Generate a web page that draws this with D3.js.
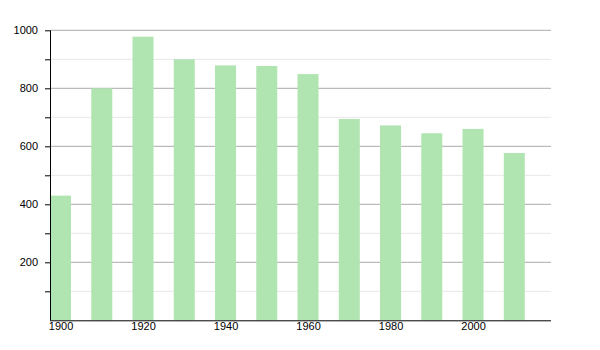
<!DOCTYPE html>
<html>
<head>
<meta charset="utf-8">
<script src="https://cdn.jsdelivr.net/npm/d3@7"></script>
<style>
  body { margin: 0; background: #fff; }
  svg { display: block; font-family: "Liberation Sans", Arial, sans-serif; }
</style>
</head>
<body>
<div id="chart"></div>
<script>
// Data
let years = [1900, 1910, 1920, 1930, 1940, 1950, 1960, 1970, 1980, 1990, 2000, 2010];
let population = [430, 800, 978, 900, 879, 877, 849, 694, 672, 645, 660, 577];
let y_ticks = [200, 400, 600, 800, 1000];
let x_ticks = [1900, 1920, 1940, 1960, 1980, 2000];

function BuildGraph(){
  let chart_width = 600;
  let chart_height = 350;
  let left = 50, right = 551, top = 30.3, bottom = 320.3;

  let svg = d3.select('#chart')
    .append('svg')
    .attr('width', chart_width)
    .attr('height', chart_height);

  // Scales
  let x_scale = d3.scaleLinear()
    .domain([1897.45, 2018.9])
    .range([left, right]);

  let y_scale = d3.scaleLinear()
    .domain([0, 1000])
    .range([bottom, top]);

  // Grid lines: minor every 100, major every 200
  let minor = d3.range(100, 1000, 200);
  svg.selectAll('line.minor')
    .data(minor)
    .enter()
    .append('line')
    .attr('x1', left).attr('x2', right)
    .attr('y1', d => y_scale(d)).attr('y2', d => y_scale(d))
    .attr('stroke', '#e8e8e8')
    .attr('stroke-width', 1);

  svg.selectAll('line.major')
    .data(y_ticks)
    .enter()
    .append('line')
    .attr('x1', left).attr('x2', right)
    .attr('y1', d => y_scale(d)).attr('y2', d => y_scale(d))
    .attr('stroke', '#aaaaaa')
    .attr('stroke-width', 1);

  // Bars
  let bar_width = 21;
  svg.selectAll('rect.bar')
    .data(years)
    .enter()
    .append('rect')
    .attr('x', d => x_scale(d) - bar_width / 2)
    .attr('y', (d, i) => y_scale(population[i]))
    .attr('width', bar_width)
    .attr('height', (d, i) => y_scale(0) - y_scale(population[i]))
    .attr('fill', '#b0e5b1');

  // Y axis
  let y_axis = d3.axisLeft(y_scale)
    .tickValues(d3.range(100, 1001, 100))
    .tickSize(5)
    .tickFormat(d => y_ticks.includes(d) ? d : '');
  let gy = svg.append('g')
    .attr('transform', 'translate(' + left + ',0)')
    .call(y_axis);
  gy.select('.domain').attr('stroke', '#000').attr('d', 'M0.5,' + top + 'V' + bottom);
  gy.selectAll('.tick line').attr('stroke', '#000');
  gy.selectAll('.tick text')
    .attr('x', -12)
    .style('font-size', '11px')
    .attr('fill', '#000');

  // X axis
  let x_axis = d3.axisBottom(x_scale)
    .tickValues(x_ticks)
    .tickSize(0)
    .tickFormat(d3.format('d'));
  let gx = svg.append('g')
    .attr('transform', 'translate(0,' + bottom + ')')
    .call(x_axis);
  gx.select('.domain').attr('stroke', '#000').attr('d', 'M' + left + ',0.5H' + right);
  gx.selectAll('.tick text')
    .attr('y', 2)
    .style('font-size', '11px')
    .attr('fill', '#000');
}

document.addEventListener('DOMContentLoaded', BuildGraph);
</script>
</body>
</html>
